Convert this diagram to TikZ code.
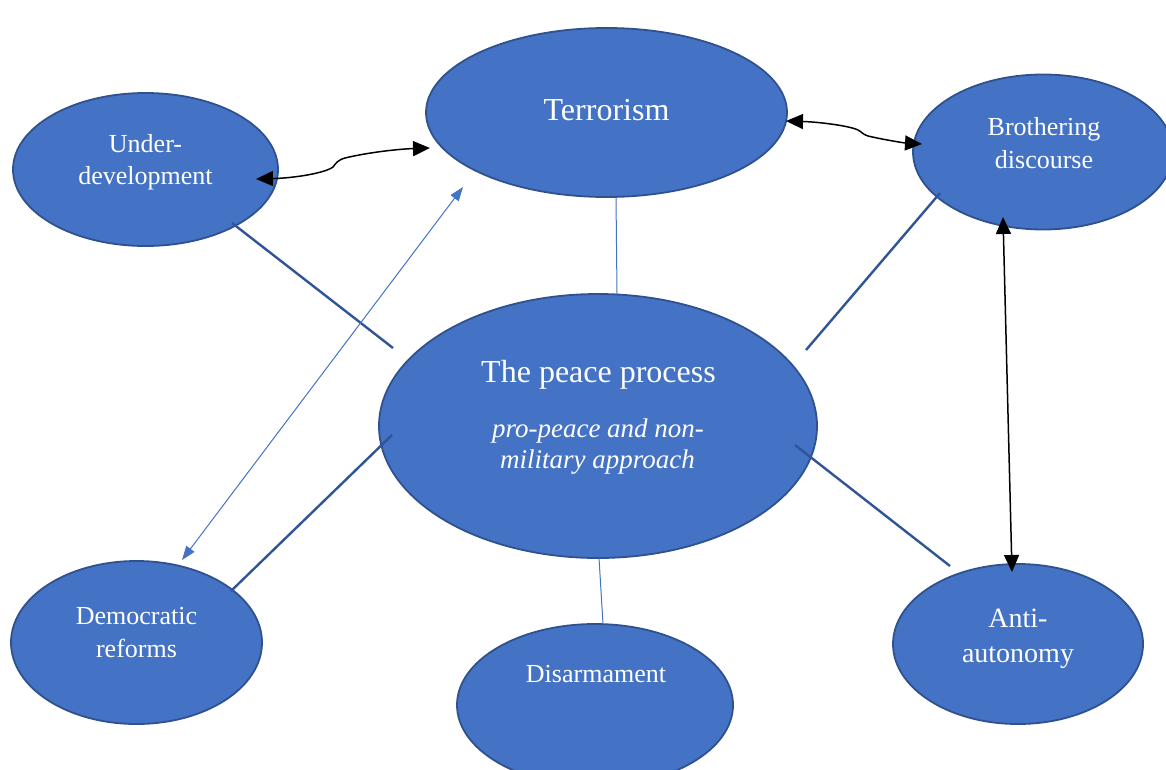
\documentclass[tikz,border=0pt]{standalone}
\usepackage{fontspec}
\setmainfont{Liberation Serif}
\usetikzlibrary{shapes.geometric,arrows.meta,calc}

\definecolor{ellfill}{HTML}{4472C4}
\definecolor{ellrim}{HTML}{2F528F}
\definecolor{linkdark}{HTML}{2F5597}

\tikzset{
  bubble/.style={ellipse, draw=ellrim, fill=ellfill, line width=1.8pt, inner sep=0pt},
  lbl/.style={text=white, anchor=base, inner sep=0pt},
  small/.style={font=\fontsize{26}{32}\selectfont},
  slant/.style={font=\fontsize{27}{32}\selectfont\itshape},
  big/.style={font=\fontsize{32}{38}\selectfont},
  link/.style={draw=linkdark, line width=2.4pt},
  thinlink/.style={draw=ellfill, line width=1pt},
  twoway/.style={draw=black, line width=1.5pt,
    {Triangle[length=17pt,width=15pt]}-{Triangle[length=17pt,width=15pt]}},
  blueway/.style={draw=ellfill, line width=1pt,
    {Triangle[length=14pt,width=10pt]}-{Triangle[length=14pt,width=10pt]}},
}

\begin{document}
\begin{tikzpicture}[x=1pt,y=-1pt]
\useasboundingbox (0,0) rectangle (1166,769);
\clip (0,0) rectangle (1166,769);

% ellipses
\node[bubble, minimum width=361pt, minimum height=169pt] (ter) at (606.5,112.5) {};
\node[bubble, minimum width=265pt, minimum height=153pt] (ud)  at (145.5,169.5) {};
\node[bubble, minimum width=260pt, minimum height=155pt] (bd)  at (1043,152) {};
\node[bubble, minimum width=438pt, minimum height=264pt] (pp)  at (598,426) {};
\node[bubble, minimum width=251pt, minimum height=163pt] (dr)  at (136.5,642.5) {};
\node[bubble, minimum width=276pt, minimum height=162pt] (dis) at (595,705) {};
\node[bubble, minimum width=250pt, minimum height=160pt] (aa)  at (1018,644) {};

% labels
\node[lbl, big]   (terT)  at (606.5,120) {Terrorism};
\node[lbl, small] (udA)   at (145.5,152) {Under-};
\node[lbl, small] (udB)   at (145.5,184) {development};
\node[lbl, small] (bdA)   at (1044,135) {Brothering};
\node[lbl, small] (bdB)   at (1044,168) {discourse};
\node[lbl, big]   (ppT)   at (598.5,382) {The peace process};
\node[lbl, slant] (ppA)   at (598,437) {pro-peace and non-};
\node[lbl, slant] (ppB)   at (597.5,468) {military approach};
\node[lbl, small] (drA)   at (136.5,624) {Democratic};
\node[lbl, small] (drB)   at (136.5,657) {reforms};
\node[lbl, small] (disT)  at (596,682) {Disarmament};
\node[lbl, font=\fontsize{28}{34}\selectfont] (aaA) at (1018,627) {Anti-};
\node[lbl, font=\fontsize{28}{34}\selectfont] (aaB) at (1018,662) {autonomy};

% plain links to the peace process
\draw[link] ($(ud.center)+(86.5,53.5)$) -- ($(pp.center)+(-205,-78)$);
\draw[link] ($(dr.center)+(94.5,-51.5)$) -- ($(pp.center)+(-206,9)$);
\draw[link] ($(pp.center)+(208,-76)$) -- ($(bd.center)+(-103,41)$);
\draw[link] ($(pp.center)+(197,19)$) -- ($(aa.center)+(-68,-78)$);
\draw[thinlink] ($(ter.center)+(9.5,84.5)$) -- ($(pp.center)+(19,-132)$);
\draw[thinlink] ($(pp.center)+(1,132)$) -- ($(dis.center)+(8,-81)$);

% two-way relations
\draw[blueway] ($(ter.center)+(-143.5,74.5)$) -- ($(dr.center)+(45.5,-82.5)$);
\draw[twoway] ($(ud.center)+(110.5,9.5)$)
  .. controls (295,178) and (325,173) .. (333,167)
  .. controls (336,163) and (338,160) .. (345,158)
  .. controls (370,152) and (400,149) .. ($(ter.center)+(-176.5,35.5)$);
\draw[twoway] ($(ter.center)+(179.5,8.5)$)
  .. controls (820,122) and (850,126) .. (858,130)
  .. controls (862,132) and (862,134) .. (868,136)
  .. controls (885,140) and (905,143) .. ($(bd.center)+(-121,-8)$);
\draw[twoway] ($(bd.center)+(-40,65)$) -- ($(aa.center)+(-6,-72)$);
\end{tikzpicture}
\end{document}
